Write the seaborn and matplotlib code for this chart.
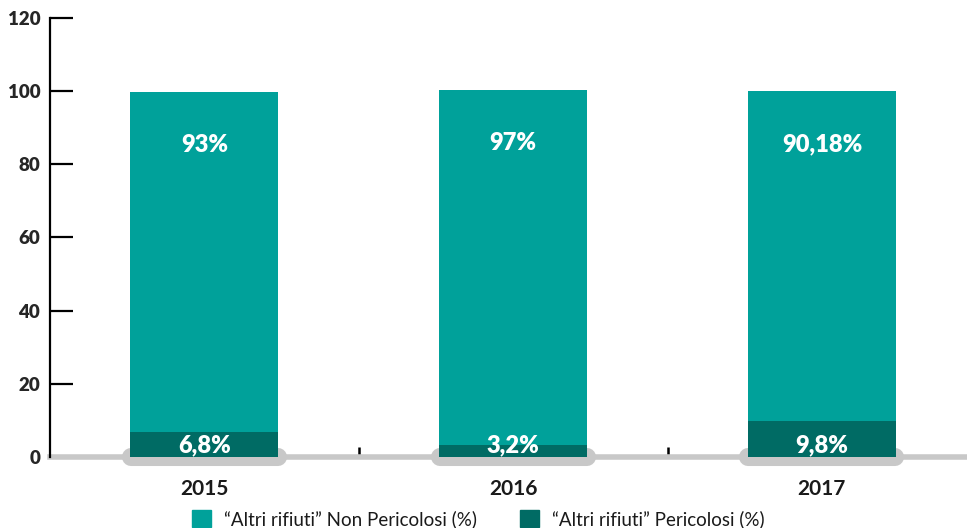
import pandas as pd
import seaborn as sns
import matplotlib.pyplot as plt
from matplotlib.patches import Patch

# Data
years = ["2015", "2016", "2017"]
non_pericolosi = [93, 97, 90.18]
pericolosi = [6.8, 3.2, 9.8]
y_ticks = [0, 20, 40, 60, 80, 100, 120]

light = "#00A19A"
dark = "#006B64"
grey = "#C8C8C8"

df = pd.DataFrame({"Anno": years, "Non": non_pericolosi, "Per": pericolosi})
df["Totale"] = df["Non"] + df["Per"]

sns.set_style("white")
plt.rcParams["font.family"] = ["Lato", "DejaVu Sans"]

fig = plt.figure(figsize=(9.67, 5.28), dpi=100)
ax = fig.add_axes([0.0517, 0.1345, 0.9483, 0.8315])

# stacked bars: total first, hazardous on top of it
sns.barplot(data=df, x="Anno", y="Totale", color=light, width=0.48,
            saturation=1, linewidth=0, ax=ax, zorder=3)
sns.barplot(data=df, x="Anno", y="Per", color=dark, width=0.48,
            saturation=1, linewidth=0, ax=ax, zorder=4)

# grey "pills" under each category
for i in range(len(years)):
    ax.plot([i - 0.238, i + 0.238], [0, 0], color=grey, lw=13,
            solid_capstyle="round", clip_on=False, zorder=2)

def fmt(v):
    return f"{v:g}".replace(".", ",") + "%"

for i, row in df.iterrows():
    ax.text(i, row["Totale"] - 14.5, fmt(row["Non"]), color="white",
            ha="center", va="center", fontsize=17, fontweight="heavy", zorder=5)
    ax.text(i, 3.3, fmt(row["Per"]), color="white",
            ha="center", va="center", fontsize=17, fontweight="heavy", zorder=5)

ax.set_xlim(-0.5, 2.47)
ax.set_ylim(0, 120)
ax.set_yticks(y_ticks)
ax.set_xlabel("")
ax.set_ylabel("")

for s in ["top", "right"]:
    ax.spines[s].set_visible(False)
ax.spines["left"].set_color("black")
ax.spines["left"].set_linewidth(1.6)
ax.spines["bottom"].set_color(grey)
ax.spines["bottom"].set_linewidth(4)
ax.spines["bottom"].set_zorder(1)

ax.tick_params(axis="y", left=True, direction="in", length=16.5, width=1.6,
               color="black", pad=7, labelsize=13.5)
for lab in ax.get_yticklabels():
    lab.set_fontweight("heavy")
ax.tick_params(axis="x", which="major", bottom=False, pad=12, labelsize=15,
               labelcolor="#1a1a1a")
for lab in ax.get_xticklabels():
    lab.set_fontweight("bold")
ax.set_xticks([0.5, 1.5], minor=True)
ax.tick_params(axis="x", which="minor", bottom=True, direction="in", length=7,
               width=1.8, color="black")

handles = [Patch(color=light, label="“Altri rifiuti” Non Pericolosi (%)"),
           Patch(color=dark, label="“Altri rifiuti” Pericolosi (%)")]
leg = fig.legend(handles=handles, loc="lower center", bbox_to_anchor=(0.495, -0.032),
                 ncol=2, frameon=False, fontsize=13.5, handlelength=1.0,
                 handleheight=1.0, columnspacing=2.3, handletextpad=0.7)
for t in leg.get_texts():
    t.set_color("#1a1a1a")

fig.savefig("out.png", dpi=100)
